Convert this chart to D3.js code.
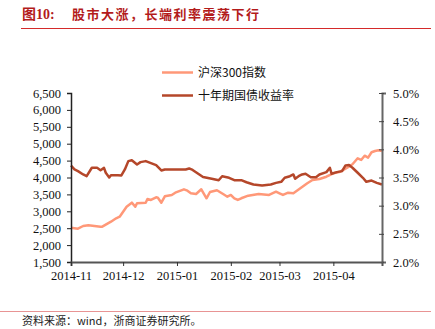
<!DOCTYPE html>
<html><head><meta charset="utf-8">
<script src="https://cdn.jsdelivr.net/npm/d3@7"></script>
<style>body{margin:0;background:#fff}svg{display:block}</style>
</head><body>
<svg id="c" width="435" height="329"></svg>
<script>
const csiDates = ["2014-11-01","2014-11-05","2014-11-08","2014-11-11","2014-11-18","2014-11-19","2014-11-24","2014-11-27","2014-11-29","2014-12-03","2014-12-06","2014-12-08","2014-12-09","2014-12-14","2014-12-15","2014-12-17","2014-12-20","2014-12-21","2014-12-23","2014-12-25","2014-12-29","2014-12-31","2015-01-05","2015-01-07","2015-01-09","2015-01-12","2015-01-15","2015-01-18","2015-01-20","2015-01-24","2015-01-28","2015-01-30","2015-02-01","2015-02-03","2015-02-05","2015-02-07","2015-02-11","2015-02-17","2015-02-23","2015-02-27","2015-03-01","2015-03-03","2015-03-06","2015-03-09","2015-03-13","2015-03-17","2015-03-20","2015-03-24","2015-03-28","2015-04-01","2015-04-05","2015-04-09","2015-04-12","2015-04-15","2015-04-17","2015-04-19","2015-04-21","2015-04-23","2015-04-25","2015-04-27","2015-04-29"];
const csiValues = [2515,2485,2565,2586,2545,2545,2693,2793,2840,3136,3255,3136,3237,3255,3364,3335,3414,3403,3255,3444,3483,3551,3651,3610,3533,3512,3651,3385,3571,3622,3497,3432,3483,3385,3335,3385,3462,3512,3483,3580,3533,3483,3551,3533,3681,3829,3926,3956,4024,4125,4172,4290,4391,4568,4518,4645,4586,4746,4784,4805,4784];
const bondDates = ["2014-11-01","2014-11-03","2014-11-05","2014-11-08","2014-11-10","2014-11-13","2014-11-16","2014-11-18","2014-11-20","2014-11-21","2014-11-23","2014-11-24","2014-11-28","2014-11-30","2014-12-02","2014-12-04","2014-12-06","2014-12-09","2014-12-11","2014-12-14","2014-12-17","2014-12-20","2014-12-23","2014-12-25","2015-01-06","2015-01-08","2015-01-10","2015-01-13","2015-01-16","2015-01-21","2015-01-25","2015-01-27","2015-01-31","2015-02-03","2015-02-07","2015-02-10","2015-02-14","2015-02-19","2015-02-24","2015-02-27","2015-03-02","2015-03-04","2015-03-07","2015-03-09","2015-03-10","2015-03-12","2015-03-14","2015-03-16","2015-03-19","2015-03-22","2015-03-24","2015-03-28","2015-03-30","2015-03-31","2015-04-03","2015-04-06","2015-04-08","2015-04-10","2015-04-12","2015-04-15","2015-04-18","2015-04-20","2015-04-23","2015-04-26","2015-04-29"];
const bondValues = [3.714,3.643,3.613,3.554,3.523,3.673,3.673,3.630,3.670,3.584,3.500,3.541,3.541,3.536,3.643,3.791,3.807,3.732,3.773,3.791,3.755,3.720,3.625,3.643,3.643,3.661,3.634,3.571,3.509,3.477,3.452,3.523,3.495,3.452,3.452,3.416,3.375,3.357,3.375,3.405,3.423,3.495,3.523,3.554,3.477,3.523,3.554,3.566,3.505,3.505,3.554,3.595,3.673,3.566,3.595,3.613,3.714,3.720,3.673,3.584,3.495,3.423,3.446,3.405,3.375];
const leftTicks = [1500,2000,2500,3000,3500,4000,4500,5000,5500,6000,6500];
const rightTicks = [2.0,2.5,3.0,3.5,4.0,4.5,5.0];
const monthTicks = ["2014-11","2014-12","2015-01","2015-02","2015-03","2015-04"];
const seriesNames = ["沪深300指数","十年期国债收益率"];
const titleNum = "图10:";
const titleText = "股市大涨，长端利率震荡下行";
const sourceText = "资料来源：wind，浙商证券研究所。";

const svg = d3.select("#c");
const parse = d3.timeParse("%Y-%m-%d");
const parseM = d3.timeParse("%Y-%m");
const X0 = 71, X1 = 382, Y0 = 262, Y1 = 93;
const x = d3.scaleTime().domain([parse("2014-11-01"), parse("2015-04-29")]).range([X0, X1]);
const yL = d3.scaleLinear().domain([1500, 6500]).range([Y0, Y1]);
const yR = d3.scaleLinear().domain([2.0, 5.0]).range([Y0, Y1]);
const serif = "'Liberation Serif','DejaVu Serif',serif";
const cjk = "'Noto Sans CJK SC','Noto Sans',sans-serif";

// title
svg.append("text").attr("x", 22).attr("y", 19).attr("font-family", serif + "," + cjk)
  .attr("font-weight", "bold").attr("font-size", 14).attr("fill", "#B31B1B").text(titleNum);
svg.append("text").attr("x", 72).attr("y", 19).attr("font-family", cjk)
  .attr("font-weight", "bold").attr("font-size", 13).attr("fill", "#B31B1B").attr("letter-spacing", 1.5).text(titleText);
svg.append("line").attr("x1", 21).attr("x2", 431).attr("y1", 28.5).attr("y2", 28.5)
  .attr("stroke", "#D42A2A").attr("stroke-width", 1);

// lines
const csi = csiDates.map((d, i) => ({ d: parse(d), v: csiValues[i] }));
const bond = bondDates.map((d, i) => ({ d: parse(d), v: bondValues[i] }));
svg.append("path").datum(csi).attr("fill", "none").attr("stroke", "#FF9878").attr("stroke-width", 2.5)
  .attr("stroke-linejoin", "round")
  .attr("d", d3.line().x(p => x(p.d)).y(p => yL(p.v)));
svg.append("path").datum(bond).attr("fill", "none").attr("stroke", "#B5472A").attr("stroke-width", 2.5)
  .attr("stroke-linejoin", "round")
  .attr("d", d3.line().x(p => x(p.d)).y(p => yR(p.v)));

// axes
const gL = svg.append("g").attr("transform", `translate(${X0},0)`)
  .call(d3.axisLeft(yL).tickValues(leftTicks).tickSize(4).tickPadding(6).tickFormat(d3.format(",")));
gL.select(".domain").attr("stroke", "#222").attr("stroke-width", 1.5);
gL.selectAll(".tick line").attr("stroke", "#222");
gL.selectAll("text").attr("font-family", serif).attr("font-size", 12.5).attr("fill", "#111");

const gR = svg.append("g").attr("transform", `translate(${X1},0)`)
  .call(d3.axisRight(yR).tickValues(rightTicks).tickSize(4).tickPadding(7).tickFormat(d3.format(".1%")).tickFormat(d => d.toFixed(1) + "%"));
gR.select(".domain").attr("stroke", "#666").attr("stroke-width", 2);
gR.selectAll(".tick line").attr("stroke", "#444").attr("x1", -3).attr("x2", 2);
gR.selectAll("text").attr("font-family", serif).attr("font-size", 12.5).attr("fill", "#111");

const gB = svg.append("g").attr("transform", `translate(0,${Y0})`)
  .call(d3.axisBottom(x).tickValues(monthTicks.map(parseM)).tickSize(4).tickPadding(5).tickFormat(d3.timeFormat("%Y-%m")));
gB.select(".domain").attr("stroke", "#555").attr("stroke-width", 2);
gB.selectAll(".tick line").attr("stroke", "#333");
gB.selectAll("text").attr("font-family", serif).attr("font-size", 12.5).attr("fill", "#111");

// legend
const leg = [{ y: 72.5, c: "#FF9878" }, { y: 95.5, c: "#B5472A" }];
leg.forEach((l, i) => {
  svg.append("line").attr("x1", 162).attr("x2", 193).attr("y1", l.y).attr("y2", l.y)
    .attr("stroke", l.c).attr("stroke-width", 2.5);
  svg.append("text").attr("x", 198).attr("y", l.y + 4.5).attr("font-family", cjk)
    .attr("font-size", 12).attr("fill", "#111").text(seriesNames[i]);
});

// footer
svg.append("line").attr("x1", 0).attr("x2", 431).attr("y1", 311.5).attr("y2", 311.5)
  .attr("stroke", "#E89494").attr("stroke-width", 1.2);
svg.append("text").attr("x", 22).attr("y", 325).attr("font-family", cjk)
  .attr("font-size", 11).attr("fill", "#222").text(sourceText);
</script>
</body></html>
